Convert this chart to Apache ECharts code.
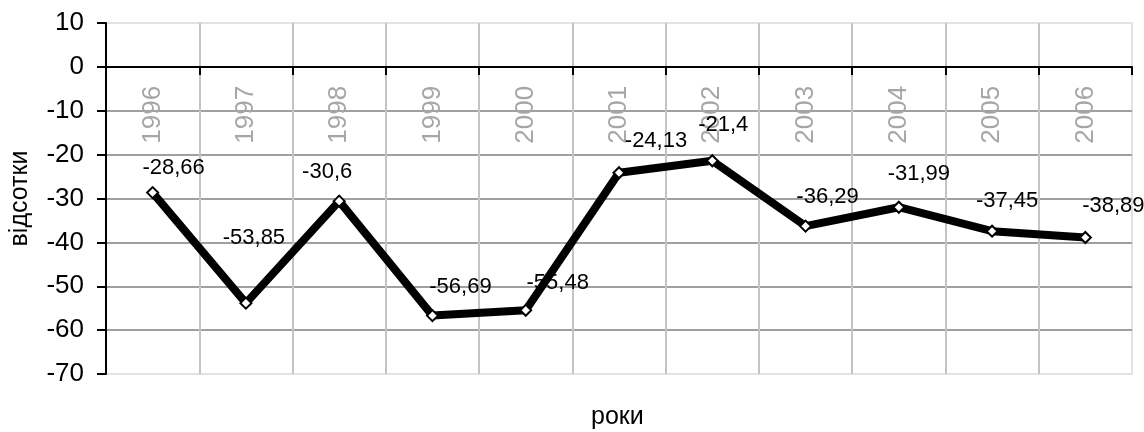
<!DOCTYPE html>
<html>
<head>
<meta charset="utf-8">
<script src="https://cdn.jsdelivr.net/npm/echarts@6/dist/echarts.min.js"></script>
<style>
  html, body { margin: 0; padding: 0; background: #ffffff; }
  #chart { width: 1144px; height: 432px; }
</style>
</head>
<body>
<div id="chart"></div>
<script>
// Роки та значення (відсотки)
const years = ['1996', '1997', '1998', '1999', '2000', '2001', '2002', '2003', '2004', '2005', '2006'];
const values = [-28.66, -53.85, -30.6, -56.69, -55.48, -24.13, -21.4, -36.29, -31.99, -37.45, -38.89];

// Value axis range and step
const yMin = -70;
const yMax = 10;
const yStep = 10;

// Where each value label sits relative to its point, in pixels
const labelShift = [[21, -25], [8, -65], [-12, -29], [28, -29], [32, -27], [37, -32], [11, -36], [22, -29], [20, -33], [15, -30], [28, -32]];

const FONT = '"Liberation Sans", Arial, sans-serif';

// Plot area box
const gridTop = 23;
const gridBottom = 58;
const chartHeight = 432;
const plotHeight = chartHeight - gridTop - gridBottom;
// The category axis runs along the zero line: lift it from the bottom edge by the height of the negative range
const zeroLift = plotHeight * (0 - yMin) / (yMax - yMin);

const chart = echarts.init(document.getElementById('chart'), null, { renderer: 'canvas' });

const seriesData = values.map((v, i) => ({
  value: v,
  label: {
    offset: labelShift[i]
  }
}));

chart.setOption({
  animation: false,
  backgroundColor: '#ffffff',
  grid: {
    left: 104,
    right: 12,
    top: gridTop,
    bottom: gridBottom,
    show: true,
    borderColor: '#e2e2e2',
    borderWidth: 2
  },
  xAxis: {
    type: 'category',
    data: years,
    position: 'bottom',
    offset: -zeroLift,
    boundaryGap: true,
    axisLine: { onZero: false, lineStyle: { color: '#000000', width: 2 } },
    axisTick: { show: true, length: 8, lineStyle: { color: '#000000', width: 2 } },
    axisLabel: {
      rotate: 90,
      margin: 19,
      fontSize: 26,
      fontFamily: FONT,
      color: '#a6a6a6'
    },
    splitLine: {
      show: true,
      showMinLine: false,
      showMaxLine: false,
      lineStyle: { color: '#c4c4c4', width: 2 }
    }
  },
  yAxis: {
    type: 'value',
    min: yMin,
    max: yMax,
    interval: yStep,
    name: 'відсотки',
    nameLocation: 'middle',
    nameRotate: 90,
    nameGap: 73,
    nameTextStyle: { fontSize: 25, fontFamily: FONT, color: '#000000' },
    axisLine: { show: true, lineStyle: { color: '#000000', width: 2 } },
    axisTick: { show: true, length: 9, lineStyle: { color: '#000000', width: 2 } },
    axisLabel: {
      margin: 22,
      fontSize: 26,
      fontFamily: FONT,
      color: '#000000'
    },
    splitLine: {
      show: true,
      showMinLine: false,
      showMaxLine: false,
      lineStyle: { color: '#a0a0a0', width: 2 }
    }
  },
  graphic: [{
    type: 'text',
    left: 591,
    top: 405,
    style: {
      text: 'роки',
      fontSize: 25,
      fontFamily: FONT,
      fill: '#000000'
    }
  }],
  series: [{
    type: 'line',
    data: seriesData,
    symbol: 'diamond',
    symbolSize: 11,
    showAllSymbol: true,
    lineStyle: { color: '#000000', width: 8 },
    itemStyle: { color: '#ffffff', borderColor: '#000000', borderWidth: 2 },
    label: {
      show: true,
      position: 'inside',
      align: 'center',
      verticalAlign: 'middle',
      fontSize: 22,
      fontFamily: FONT,
      color: '#000000',
      formatter: p => String(p.value).replace('.', ',')
    },
    z: 5
  }]
});
</script>
</body>
</html>
